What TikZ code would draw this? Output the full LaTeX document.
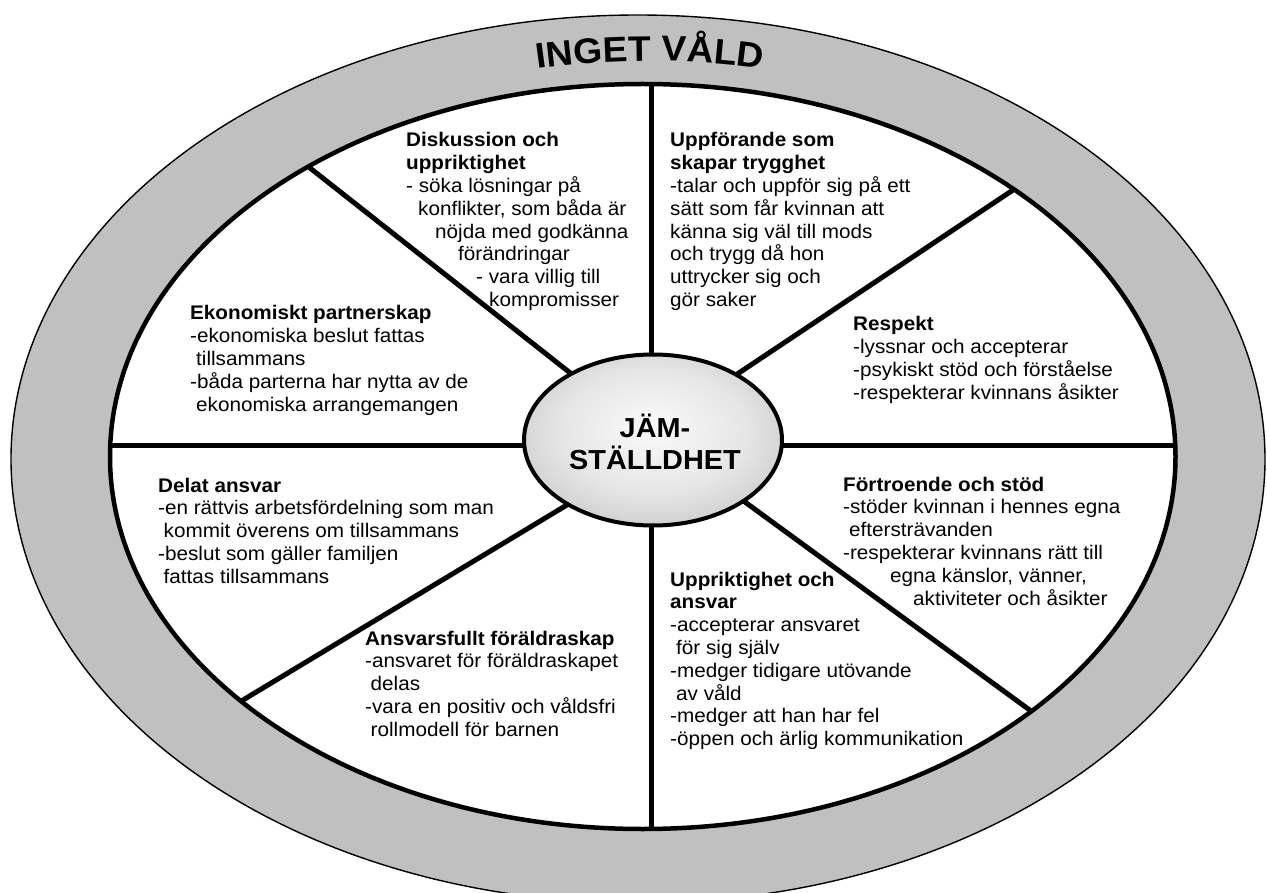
\documentclass[tikz,border=0pt]{standalone}
\usepackage{fontspec}
\setmainfont{Liberation Sans}[FakeStretch=1.05]
\usetikzlibrary{shapes.geometric,decorations.text,calc}
\pgfdeclarelayer{background}
\pgfsetlayers{background,main}
\definecolor{ringgray}{RGB}{192,192,192}
\pgfdeclareradialshading{hubshade}{\pgfpoint{0bp}{4bp}}{%
  color(0bp)=(black!2); color(18bp)=(black!10); color(34bp)=(black!24);
  color(47bp)=(black!40); color(50bp)=(black!44)}
\newcommand{\blk}[1]{\begin{tabular}[t]{@{}l@{}}#1\end{tabular}}
\newcommand{\ivfont}{\bfseries\fontsize{35.5}{36}\selectfont}
\tikzset{
  ringline/.style={line width=1.4pt},
  rimline/.style={line width=4.5pt},
  spokeline/.style={line width=5pt},
  txt/.style={anchor=base west, inner sep=0pt, font=\fontsize{19.7}{22.8}\selectfont},
  hubstyle/.style={ellipse, draw, line width=4pt, shading=hubshade,
    minimum width=258pt, minimum height=171pt, inner sep=0pt},
  hubtext/.style={anchor=base, inner sep=0pt, font=\bfseries\fontsize{27.5}{31.5}\selectfont},
}
\begin{document}
\begin{tikzpicture}[x=1pt,y=-1pt]
\useasboundingbox (0,0) rectangle (1267,893);
\node[hubstyle] (hub) at (653,440) {};
\coordinate (tE) at (651,84);
\coordinate (bE) at (651,829);
\coordinate (lE) at (110,445.5);
\coordinate (rE) at (1175.5,445.5);
\coordinate (ulE) at (310,168);
\coordinate (urE) at (1013,190);
\coordinate (llE) at (243,700);
\coordinate (lrE) at (1031,711);
\begin{pgfonlayer}{background}
  \fill[ringgray, even odd rule] (638,459) ellipse [x radius=627, y radius=444]
       (642.75,456.5) ellipse [x radius=532.75, y radius=372.5];
  \draw[ringline] (638,459) ellipse [x radius=627, y radius=444];
  \draw[spokeline] (tE) -- (tE |- hub.center);
  \draw[spokeline] (bE) -- (bE |- hub.center);
  \draw[spokeline] (lE) -- (lE -| hub.center);
  \draw[spokeline] (rE) -- (rE -| hub.center);
  \draw[spokeline, shorten <=-15pt, shorten >=-1pt] (hub.141.7) -- (ulE);
  \draw[spokeline, shorten <=-15pt, shorten >=-1pt] (hub.38.3) -- (urE);
  \draw[spokeline, shorten <=-15pt, shorten >=-1pt] (hub.217.9) -- (llE);
  \draw[spokeline, shorten <=-15pt, shorten >=-1pt] (hub.326.7) -- (lrE);
  \draw[rimline] (642.75,456.5) ellipse [x radius=532.75, y radius=372.5];
\end{pgfonlayer}
\node[hubtext] (hubtxt) at (655,437) {\begin{tabular}[t]{@{}c@{}}JÄM-\\STÄLLDHET\end{tabular}};
\begin{scope}[y=1pt]
  \path[decorate, decoration={text along path, text align=center,
      text={|\ivfont|INGET VÅLD}}]
    (650,-457) ++(115:565 and 396) arc[start angle=115, end angle=65, x radius=565, y radius=396];
\end{scope}
\node[txt] (disk) at (406,147) {\blk{\textbf{Diskussion och}\\ \textbf{uppriktighet}\\ - söka lösningar på\\
  \hspace*{12pt}konflikter, som båda är\\ \hspace*{29pt}nöjda med godkänna\\ \hspace*{52pt}förändringar\\
  \hspace*{70pt}- vara villig till\\ \hspace*{83pt}kompromisser}};
\node[txt] (uppf) at (670,147) {\blk{\textbf{Uppförande som}\\ \textbf{skapar trygghet}\\ -talar och uppför sig på ett\\
  sätt som får kvinnan att\\ känna sig väl till mods\\ och trygg då hon\\ uttrycker sig och\\ gör saker}};
\node[txt] (ekon) at (190,320) {\blk{\textbf{Ekonomiskt partnerskap}\\ -ekonomiska beslut fattas\\ \hspace*{6pt}tillsammans\\
  -båda parterna har nytta av de\\ \hspace*{6pt}ekonomiska arrangemangen}};
\node[txt] (resp) at (853,331) {\blk{\textbf{Respekt}\\ -lyssnar och accepterar\\ -psykiskt stöd och förståelse\\ -respekterar kvinnans åsikter}};
\node[txt] (delat) at (158,492) {\blk{\textbf{Delat ansvar}\\ -en rättvis arbetsfördelning som man\\ \hspace*{5.5pt}kommit överens om tillsammans\\
  -beslut som gäller familjen\\ \hspace*{5.5pt}fattas tillsammans}};
\node[txt] (fort) at (843,491) {\blk{\textbf{Förtroende och stöd}\\ -stöder kvinnan i hennes egna\\ \hspace*{6pt}eftersträvanden\\
  -respekterar kvinnans rätt till\\ \hspace*{47pt}egna känslor, vänner,\\ \hspace*{70pt}aktiviteter och åsikter}};
\node[txt] (uppr) at (670,586) {\blk{\textbf{Uppriktighet och}\\ \textbf{ansvar}\\ -accepterar ansvaret\\ \hspace*{6pt}för sig själv\\
  -medger tidigare utövande\\ \hspace*{6pt}av våld\\ -medger att han har fel\\ -öppen och ärlig kommunikation}};
\node[txt] (ansv) at (365,645) {\blk{\textbf{Ansvarsfullt föräldraskap}\\ -ansvaret för föräldraskapet\\ \hspace*{5.5pt}delas\\
  -vara en positiv och våldsfri\\ \hspace*{5.5pt}rollmodell för barnen}};
\end{tikzpicture}
\end{document}
